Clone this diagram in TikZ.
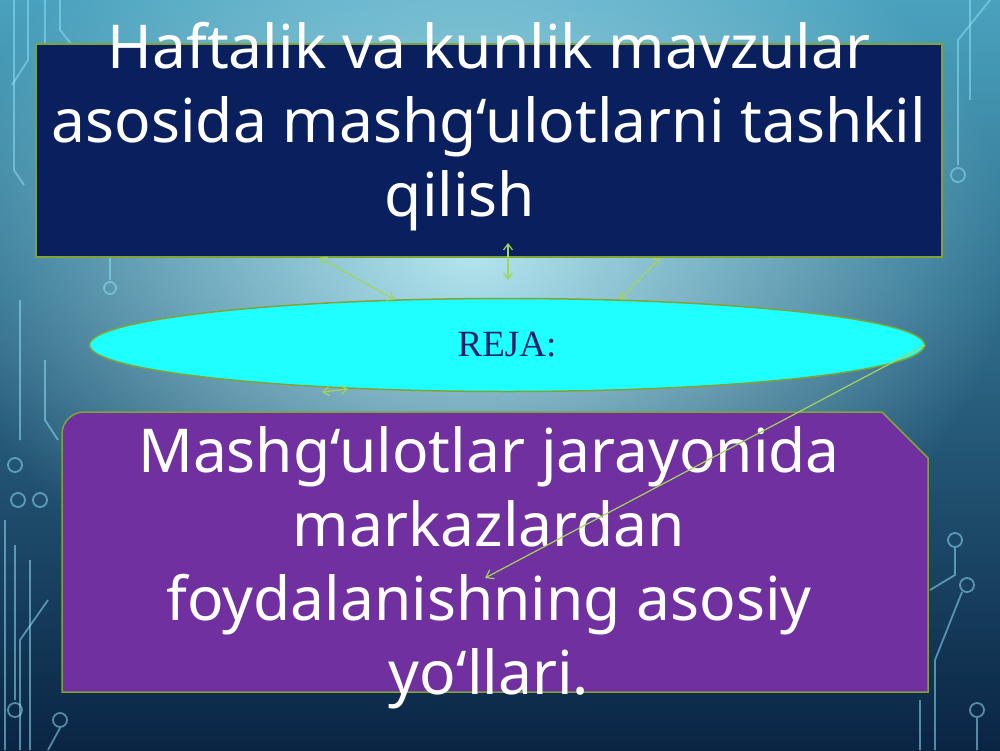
\documentclass[tikz,border=0pt]{standalone}
\usepackage{fontspec}
\setmainfont{Noto Sans}
\newfontfamily\rejafont{Liberation Serif}
\usetikzlibrary{shapes.geometric}
\usetikzlibrary{positioning}
\usetikzlibrary{arrows.meta}
\usetikzlibrary{calc}
\usetikzlibrary{fadings}
\definecolor{navybox}{HTML}{0A1F5E}
\definecolor{boxedge}{HTML}{7FA33A}
\definecolor{rejacyan}{HTML}{1EFFFF}
\definecolor{rejatext}{HTML}{15246A}
\definecolor{purplebox}{HTML}{7030A0}
\definecolor{linkgreen}{HTML}{A2D45E}
\definecolor{bgtop}{HTML}{4AA2BE}
\definecolor{bgbot}{HTML}{0A2444}
\definecolor{bglight}{HTML}{B4E6EF}
\definecolor{circuit}{HTML}{8CE0F5}
\tikzfading[name=glowfade, inner color=transparent!0, outer color=transparent!100]
\tikzset{
    planbox/.style = {rectangle, draw=boxedge, line width=1.5pt, fill=navybox, minimum width=906pt, minimum height=213pt, inner sep=0pt},
    rejanode/.style = {ellipse, draw=boxedge, line width=1.5pt, fill=rejacyan, minimum width=835pt, minimum height=93pt, text=rejatext, font=\rejafont\fontsize{37}{40}\selectfont},
    waysbox/.style = {draw=boxedge, line width=1.5pt, fill=purplebox},
    bigtext/.style = {align=center, text=white, font=\fontsize{60.5}{74}\selectfont},
    link/.style = {{Straight Barb[length=6pt,width=9pt]}-{Straight Barb[length=6pt,width=9pt]}, line width=1.2pt, draw=linkgreen},
    linkone/.style = {-{Straight Barb[length=7pt,width=10pt]}, line width=1.2pt, draw=linkgreen},
    wire/.style = {draw=circuit, line width=1.8pt, opacity=0.55}
}

\begin{document}
\begin{tikzpicture}[x=1pt, y=-1pt]
  \useasboundingbox (0,0) rectangle (1000,750);
  % background
  \shade[top color=bgtop, bottom color=bgbot] (0,0) rectangle (1000,750);
  \fill[bglight, path fading=glowfade] (470,250) ellipse [x radius=540pt, y radius=400pt];

  % circuit traces, left
  \draw[wire] (14,0) -- (14,170) -- (24,185);
  \draw[wire] (28,0) -- (28,60) -- (12,85);
  \draw[wire] (45,0) -- (45,130) -- (38,150);
  \draw[wire] (60,0) -- (60,30) -- (72,45);
  \draw[wire] (20,300) -- (20,440) (15,465) circle[radius=7pt];
  \draw[wire] (45,360) -- (45,420) -- (58,440) (40,500) circle[radius=7pt];
  \draw[wire] (5,520) -- (5,750) (18,500) circle[radius=7pt];
  \draw[wire] (15,545) -- (15,700) (15,710) circle[radius=7pt];
  \draw[wire] (30,560) -- (30,750);
  \draw[wire] (48,600) -- (20,640) -- (20,750);
  \draw[wire] (60,720) circle[radius=7pt] (60,728) -- (48,750);
  \draw[wire] (110,190) -- (110,280) (110,288) circle[radius=6pt];
  % circuit traces, right
  \draw[wire] (990,0) -- (958,40) -- (958,165) (958,175) circle[radius=7pt];
  \draw[wire] (970,0) -- (970,100);
  \draw[wire] (955,540) circle[radius=7pt] (955,548) -- (955,575) -- (930,590);
  \draw[wire] (967,585) circle[radius=7pt] (962,592) -- (935,660) -- (935,750);
  \draw[wire] (977,710) circle[radius=7pt] (977,718) -- (977,750);
  \draw[wire] (920,700) -- (920,750);

  % boxes
  \node[planbox] (plan) at (489,150.5) {};
  \node[bigtext] (title) at (489,127) {Haftalik va kunlik mavzular\\asosida mashg‘ulotlarni tashkil\\qilish\hspace*{58pt}};
  \node[rejanode] (reja) at (507,345) {REJA:};
  \draw[waysbox] (62,692) -- (62,434) .. controls (62,422) and (72,412) .. (84,412)
      -- (882,412) -- (928,458) -- (928,692) -- cycle;
  \node[bigtext] (ways) at (489,568) {Mashg‘ulotlar jarayonida\\markazlardan\\foydalanishning asosiy\\yo‘llari.};

  % links
  \coordinate (p1) at ($(plan.south west)!0.313!(plan.south east)$);
  \coordinate (p2) at ($(plan.south west)!0.689!(plan.south east)$);
  \coordinate (v1) at (508,243);
  \coordinate (v2) at (508,280);
  \coordinate (b1) at (322,392);
  \coordinate (b2) at (348,389);
  \coordinate (tgt) at (485,578);
  \draw[link] (p1) -- (reja.158);
  \draw[link] (p2) -- (reja.22);
  \draw[link] (v1) -- (v2);
  \draw[link] (b1) -- (b2);
  \draw[linkone] (reja.east) -- (tgt);
\end{tikzpicture}
\end{document}
